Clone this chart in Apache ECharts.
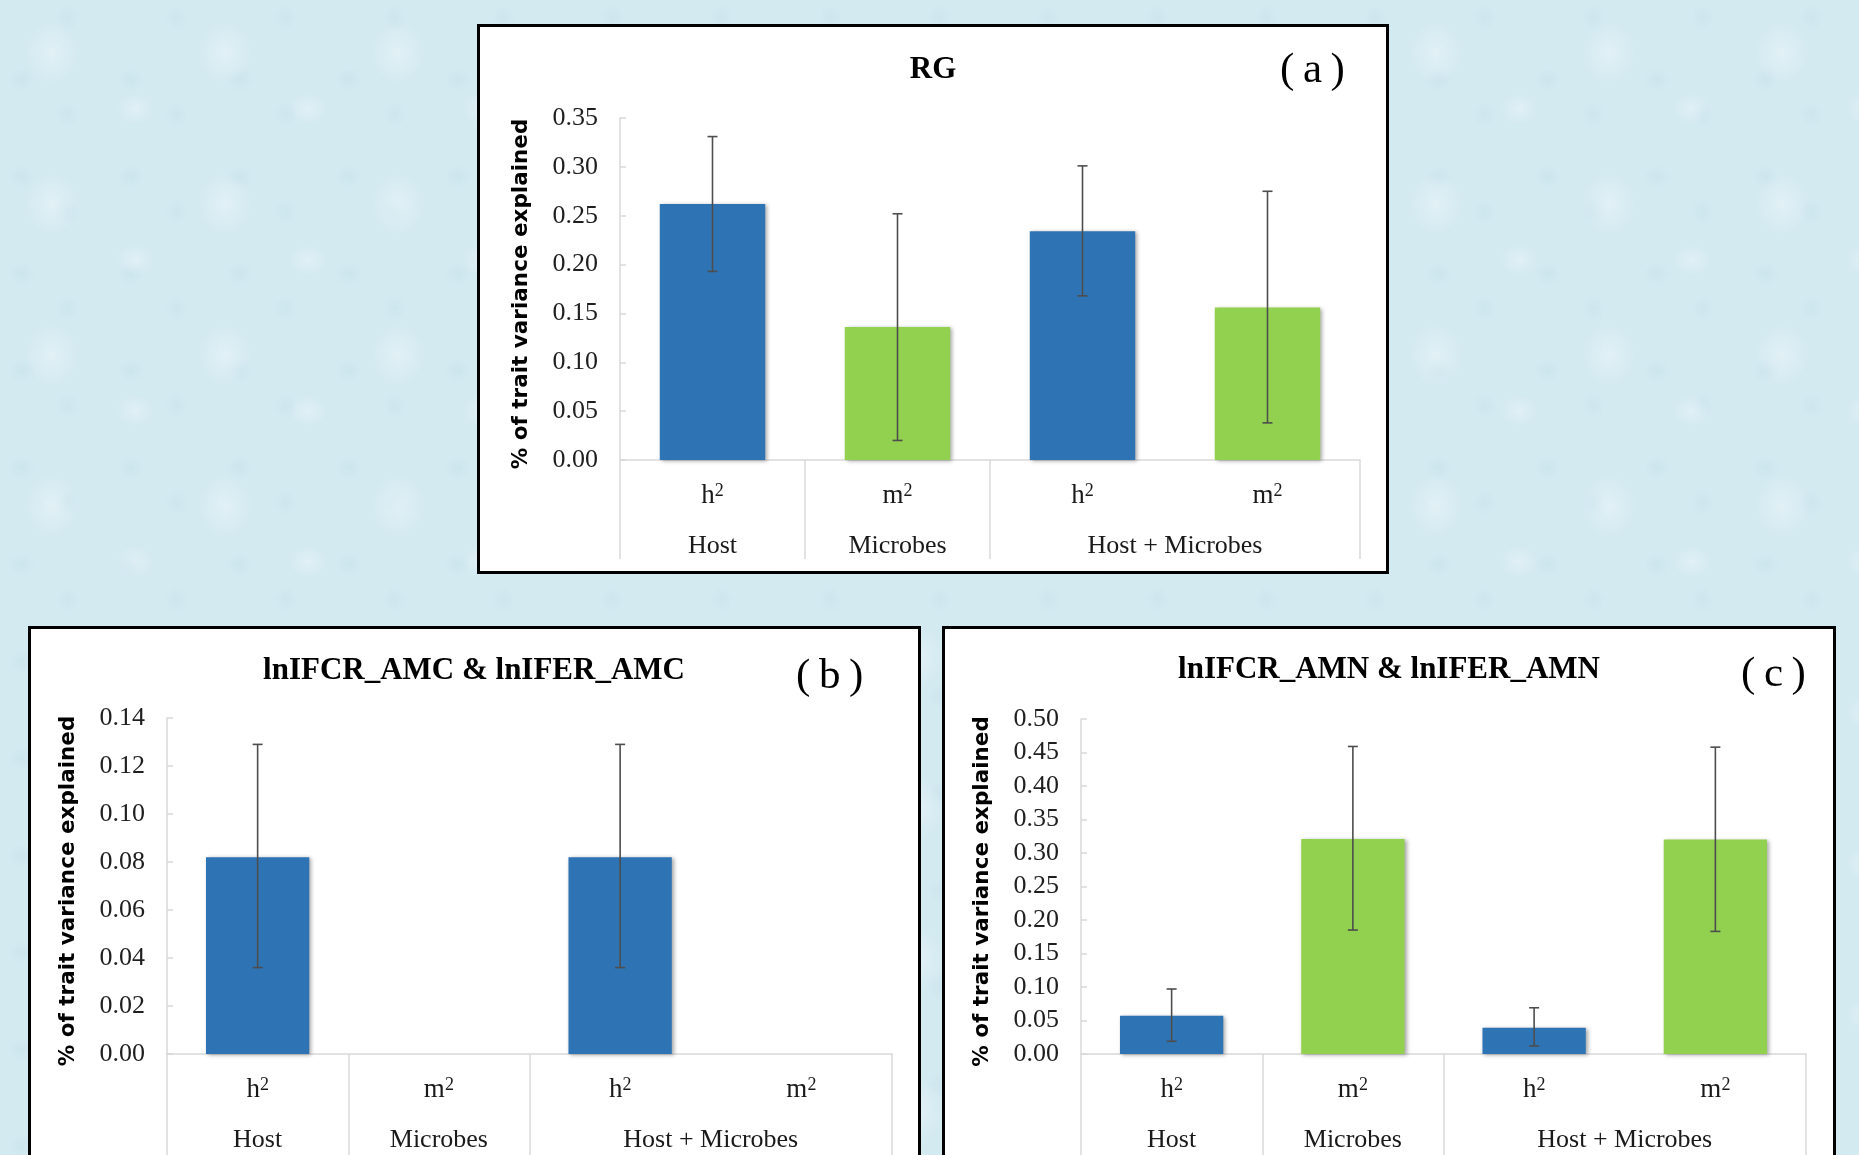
<!DOCTYPE html>
<html>
<head>
    <meta charset="utf-8">
    <title>Trait variance explained</title>
    <script src="https://cdn.jsdelivr.net/npm/echarts@6/dist/echarts.min.js"></script>
    <style>
        body, html {
            margin: 0;
            width: 100%;
            height: 100%;
            overflow: hidden;
            background-color: #d4eaf1;
            /* rough imitation of the water drop texture */
            background-image:
                radial-gradient(ellipse 34px 40px at 30% 35%, rgba(236, 246, 250, .55), rgba(236, 246, 250, 0) 75%),
                radial-gradient(ellipse 24px 20px at 78% 72%, rgba(236, 246, 250, .5), rgba(236, 246, 250, 0) 75%),
                radial-gradient(ellipse 18px 16px at 20% 82%, rgba(190, 218, 228, .35), rgba(190, 218, 228, 0) 75%),
                radial-gradient(ellipse 16px 18px at 62% 18%, rgba(190, 218, 228, .3), rgba(190, 218, 228, 0) 75%);
            background-size: 173px 151px, 173px 151px, 109px 97px, 109px 97px;
        }

        .panel {
            position: absolute;
            box-sizing: border-box;
            border: 3px solid #000;
            background: #fff;
        }

        #panelA { left: 477px; top: 24px; width: 912px; height: 550px; }
        #panelB { left: 28px; top: 626px; width: 893px; height: 600px; }
        #panelC { left: 942px; top: 626px; width: 894px; height: 600px; }
    </style>
</head>
<body>
<div class="panel" id="panelA"></div>
<div class="panel" id="panelB"></div>
<div class="panel" id="panelC"></div>
<script type="text/javascript">
    // first level of the category axis
    var categories = ['h2', 'm2', 'h2', 'm2'];
    // second level: groups, their centres and their borders on a 0..4 scale
    var groups = ['Host', 'Microbes', 'Host + Microbes'];
    var groupCenters = [0.5, 1.5, 3];
    var groupEdges = [0, 1, 2, 4];

    // (a) RG
    var rgValues = [0.262, 0.136, 0.234, 0.156];
    var rgLow = [0.193, 0.020, 0.168, 0.038];
    var rgHigh = [0.331, 0.252, 0.301, 0.275];
    var rgTicks = [0, 0.35, 0.05];

    // (b) lnIFCR_AMC & lnIFER_AMC
    var amcValues = [0.082, 0, 0.082, 0];
    var amcLow = [0.036, null, 0.036, null];
    var amcHigh = [0.129, null, 0.129, null];
    var amcTicks = [0, 0.14, 0.02];

    // (c) lnIFCR_AMN & lnIFER_AMN
    var amnValues = [0.057, 0.321, 0.039, 0.320];
    var amnLow = [0.019, 0.185, 0.012, 0.183];
    var amnHigh = [0.097, 0.459, 0.069, 0.458];
    var amnTicks = [0, 0.50, 0.05];

    var serif = '"Liberation Serif", "DejaVu Serif", serif';
    var gridColor = '#d9d9d9';

    function buildOption(cfg) {
        var errData = [];
        for (var i = 0; i < categories.length; i++) {
            if (cfg.low[i] != null) {
                errData.push([i, cfg.low[i], cfg.high[i]]);
            }
        }
        return {
            animation: false,
            title: [
                {
                    text: cfg.title,
                    left: cfg.titleX,
                    top: cfg.titleY,
                    textAlign: 'center',
                    padding: 0,
                    textStyle: {fontFamily: serif, fontWeight: 'bold', fontSize: 31, color: '#000'}
                },
                {
                    text: cfg.tag,
                    left: cfg.tagX,
                    top: cfg.tagY,
                    padding: 0,
                    textStyle: {fontFamily: serif, fontWeight: 'normal', fontSize: 43, color: '#000'}
                }
            ],
            grid: cfg.grid,
            xAxis: [
                {
                    type: 'category',
                    data: categories,
                    position: 'bottom',
                    axisLine: {lineStyle: {color: gridColor, width: 1.5}},
                    axisTick: {show: false},
                    axisLabel: {
                        margin: 22,
                        color: '#1a1a1a',
                        formatter: function (v) {
                            return '{b|' + v.charAt(0) + '}{s|' + v.charAt(1) + '}';
                        },
                        rich: {
                            b: {fontFamily: serif, fontSize: 27, color: '#1a1a1a', verticalAlign: 'bottom'},
                            s: {fontFamily: serif, fontSize: 18, color: '#1a1a1a', verticalAlign: 'top'}
                        }
                    }
                },
                {
                    type: 'value',
                    min: 0,
                    max: 4,
                    position: 'bottom',
                    axisLine: {show: false},
                    splitLine: {show: false},
                    axisTick: {
                        show: true,
                        customValues: groupEdges,
                        length: cfg.tableDepth,
                        lineStyle: {color: gridColor, width: 1.5}
                    },
                    axisLabel: {
                        customValues: groupCenters,
                        margin: 73,
                        fontFamily: serif,
                        fontSize: 26,
                        color: '#1a1a1a',
                        formatter: function (v) {
                            return groups[groupCenters.indexOf(v)];
                        }
                    }
                }
            ],
            yAxis: {
                type: 'value',
                min: cfg.ticks[0],
                max: cfg.ticks[1],
                interval: cfg.ticks[2],
                name: '% of trait variance explained',
                nameLocation: 'middle',
                nameGap: 88,
                nameTextStyle: {
                    fontFamily: '"DejaVu Sans", Verdana, sans-serif',
                    fontWeight: 'bold',
                    fontSize: 21.5,
                    color: '#000',
                    padding: [0, 10, 0, 0]
                },
                axisLine: {show: true, lineStyle: {color: gridColor, width: 1.5}},
                axisTick: {show: true, inside: true, length: 6, lineStyle: {color: gridColor, width: 1.5}},
                splitLine: {show: false},
                axisLabel: {
                    margin: 22,
                    fontFamily: serif,
                    fontSize: 26,
                    color: '#1f1f1f',
                    formatter: function (v) {
                        return v.toFixed(2);
                    }
                }
            },
            series: [
                {
                    type: 'bar',
                    xAxisIndex: 0,
                    barWidth: '57%',
                    data: cfg.values,
                    itemStyle: {
                        color: function (p) {
                            return categories[p.dataIndex] === 'h2' ? '#2e74b5' : '#92d050';
                        },
                        shadowColor: 'rgba(0,0,0,0.35)',
                        shadowBlur: 4,
                        shadowOffsetX: 2,
                        shadowOffsetY: 1
                    }
                },
                {
                    type: 'custom',
                    xAxisIndex: 0,
                    z: 5,
                    data: errData,
                    encode: {x: 0, y: [1, 2]},
                    renderItem: function (params, api) {
                        var top = api.coord([api.value(0), api.value(2)]);
                        var bot = api.coord([api.value(0), api.value(1)]);
                        var cap = 5;
                        var style = {stroke: '#4d4d4d', lineWidth: 1.6};
                        return {
                            type: 'group',
                            children: [
                                {type: 'line', shape: {x1: top[0], y1: top[1], x2: bot[0], y2: bot[1]}, style: style},
                                {type: 'line', shape: {x1: top[0] - cap, y1: top[1], x2: top[0] + cap, y2: top[1]}, style: style},
                                {type: 'line', shape: {x1: bot[0] - cap, y1: bot[1], x2: bot[0] + cap, y2: bot[1]}, style: style}
                            ]
                        };
                    }
                }
            ]
        };
    }

    var chartA = echarts.init(document.getElementById('panelA'));
    chartA.setOption(buildOption({
        title: 'RG', titleX: 453, titleY: 27,
        tag: '(\u2009a\u2009)', tagX: 800, tagY: 22,
        grid: {left: 140, top: 91, width: 740, height: 342},
        tableDepth: 99,
        ticks: rgTicks, values: rgValues, low: rgLow, high: rgHigh
    }));

    var chartB = echarts.init(document.getElementById('panelB'));
    chartB.setOption(buildOption({
        title: 'lnIFCR_AMC & lnIFER_AMC', titleX: 443, titleY: 26,
        tag: '(\u2009b\u2009)', tagX: 765, tagY: 26,
        grid: {left: 136, top: 89, width: 725, height: 336},
        tableDepth: 140,
        ticks: amcTicks, values: amcValues, low: amcLow, high: amcHigh
    }));

    var chartC = echarts.init(document.getElementById('panelC'));
    chartC.setOption(buildOption({
        title: 'lnIFCR_AMN & lnIFER_AMN', titleX: 444, titleY: 25,
        tag: '(\u2009c\u2009)', tagX: 796, tagY: 24,
        grid: {left: 136, top: 90, width: 725, height: 335},
        tableDepth: 140,
        ticks: amnTicks, values: amnValues, low: amnLow, high: amnHigh
    }));
</script>
</body>
</html>
